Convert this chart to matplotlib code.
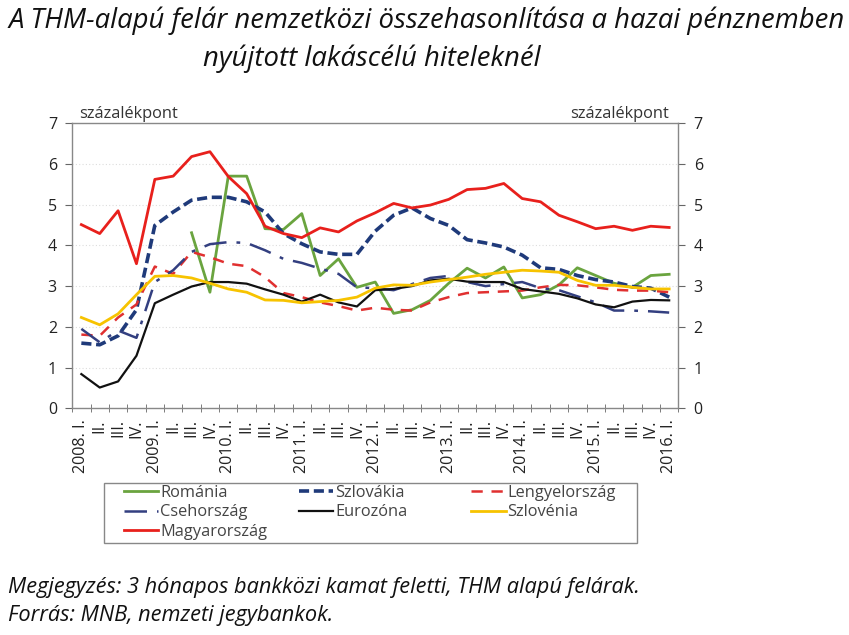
import matplotlib.pyplot as plt
from matplotlib.patches import Rectangle
import numpy as np

# negyedéves adatok, 2008. I. - 2016. I.
years = [2008, 2009, 2010, 2011, 2012, 2013, 2014, 2015, 2016]
quarters = ["I.", "II.", "III.", "IV."]

romania = [np.nan, np.nan, np.nan, np.nan, np.nan, np.nan, 4.31, 2.85, 5.70, 5.70,
           4.41, 4.39, 4.78, 3.26, 3.67, 2.97, 3.10, 2.33, 2.42, 2.65,
           3.07, 3.44, 3.20, 3.47, 2.71, 2.79, 3.03, 3.45, 3.26, 3.07,
           2.97, 3.26, 3.29]
szlovakia = [1.60, 1.56, 1.78, 2.42, 4.49, 4.82, 5.11, 5.18, 5.18, 5.07,
             4.82, 4.29, 4.04, 3.84, 3.78, 3.78, 4.35, 4.74, 4.92, 4.66,
             4.49, 4.14, 4.06, 3.96, 3.76, 3.45, 3.41, 3.26, 3.16, 3.10,
             2.99, 2.95, 2.73]
lengyel = [1.81, 1.78, 2.23, 2.55, 3.48, 3.30, 3.84, 3.71, 3.55, 3.49,
           3.22, 2.83, 2.73, 2.60, 2.51, 2.40, 2.47, 2.42, 2.40, 2.60,
           2.73, 2.83, 2.85, 2.87, 2.89, 2.97, 3.03, 3.02, 2.97, 2.91,
           2.89, 2.89, 2.85]
cseh = [1.95, 1.62, 1.91, 1.73, 3.10, 3.39, 3.84, 4.03, 4.08, 4.06,
        3.88, 3.67, 3.57, 3.43, 3.30, 2.97, 2.95, 2.90, 3.05, 3.20,
        3.25, 3.10, 3.00, 3.05, 3.10, 2.95, 2.90, 2.75, 2.60, 2.40,
        2.40, 2.38, 2.35]
eurozona = [0.84, 0.51, 0.66, 1.29, 2.58, 2.79, 2.99, 3.10, 3.10, 3.06,
            2.92, 2.79, 2.62, 2.79, 2.60, 2.50, 2.90, 2.93, 3.00, 3.14,
            3.18, 3.11, 3.10, 3.10, 2.93, 2.87, 2.81, 2.70, 2.55, 2.48,
            2.62, 2.66, 2.65]
szlovenia = [2.23, 2.05, 2.32, 2.79, 3.24, 3.26, 3.20, 3.07, 2.93, 2.85,
             2.66, 2.65, 2.59, 2.62, 2.65, 2.73, 2.95, 3.03, 3.02, 3.10,
             3.16, 3.22, 3.29, 3.34, 3.39, 3.37, 3.34, 3.14, 3.02, 3.02,
             2.97, 2.93, 2.93]
magyar = [4.51, 4.29, 4.85, 3.55, 5.62, 5.70, 6.18, 6.30, 5.69, 5.27,
          4.47, 4.29, 4.19, 4.43, 4.33, 4.60, 4.80, 5.03, 4.92, 4.99,
          5.13, 5.37, 5.40, 5.52, 5.15, 5.07, 4.74, 4.58, 4.41, 4.47,
          4.37, 4.47, 4.44]

labels = []
for y in years:
    for q in quarters:
        if q == "I.":
            labels.append(f"{y}. I.")
        else:
            labels.append(q)
labels = labels[:len(magyar)]

plt.rcParams['font.family'] = ['Open Sans', 'DejaVu Sans']

fig = plt.figure(figsize=(8.49, 6.35), dpi=100)
ax = fig.add_axes([0.085, 0.357, 0.714, 0.449])

x = np.arange(len(magyar))
l_ro, = ax.plot(x, romania, color="#6aa43f", lw=2, label="Románia")
l_sk, = ax.plot(x, szlovakia, color="#1f3a7a", lw=2.6, dashes=(2.8, 1.3), label="Szlovákia")
l_pl, = ax.plot(x, lengyel, color="#e03030", lw=1.8, dashes=(4.5, 3.5), label="Lengyelország")
l_cz, = ax.plot(x, cseh, color="#333f80", lw=1.8, dashes=(9, 4, 1.5, 4), label="Csehország")
l_ez, = ax.plot(x, eurozona, color="#111111", lw=1.6, label="Eurozóna")
l_si, = ax.plot(x, szlovenia, color="#f7c300", lw=2, label="Szlovénia")
l_hu, = ax.plot(x, magyar, color="#e8201c", lw=2, label="Magyarország")

ax.set_xlim(-0.5, len(magyar) - 0.5)
ax.set_ylim(0, 7)
ax.set_yticks(range(8))
ax.yaxis.grid(True, color="#dddddd", lw=0.8, ls=(0, (1, 2)))
ax.set_axisbelow(True)

ax.set_xticks(x)
ax.set_xticklabels(labels, rotation=90, fontsize=11.6, color="#222222")
ax.set_xticks(np.arange(-0.5, len(magyar), 1), minor=True)
ax.tick_params(axis="x", which="major", length=0, pad=8)
ax.tick_params(axis="x", which="minor", length=6, direction="inout", color="#666666")
ax.tick_params(axis="y", left=True, right=True, labelleft=True, labelright=True,
               direction="out", length=5, labelsize=11.5, color="#666666",
               labelcolor="#222222", pad=6)
for s in ax.spines.values():
    s.set_color("#888888")
    s.set_linewidth(1)

ax.text(0.012, 1.003, "százalékpont", transform=ax.transAxes, fontsize=11.8,
        color="#333333", ha="left", va="bottom")
ax.text(0.985, 1.003, "százalékpont", transform=ax.transAxes, fontsize=11.8,
        color="#333333", ha="right", va="bottom")

# jelmagyarázat: három oszlop, soronként töltve
columns = [([l_ro, l_cz, l_hu], 0.146), ([l_sk, l_ez], 0.352), ([l_pl, l_si], 0.555)]
for handles, xpos in columns:
    lg = fig.legend(handles=handles, loc="upper left", bbox_to_anchor=(xpos, 0.236),
                    fontsize=11.8, frameon=False, handlelength=2.1, handletextpad=0.1,
                    labelspacing=0.2, borderpad=0, borderaxespad=0)
    for t in lg.get_texts():
        t.set_color("#444444")
fig.patches.append(Rectangle((0.123, 0.145), 0.627, 0.094, transform=fig.transFigure,
                             fill=False, edgecolor="#888888", lw=1))

fig.text(0.01, 0.967, "A THM-alapú felár nemzetközi összehasonlítása a hazai pénznemben",
         fontsize=19.8, style="italic", ha="left", va="center", color="#111111")
fig.text(0.438, 0.908, "nyújtott lakáscélú hiteleknél",
         fontsize=19.8, style="italic", ha="center", va="center", color="#111111")
fig.text(0.01, 0.075, "Megjegyzés: 3 hónapos bankközi kamat feletti, THM alapú felárak.",
         fontsize=15.7, style="italic", ha="left", va="center", color="#111111")
fig.text(0.01, 0.031, "Forrás: MNB, nemzeti jegybankok.",
         fontsize=15.7, style="italic", ha="left", va="center", color="#111111")

fig.savefig("out.png", dpi=100)
